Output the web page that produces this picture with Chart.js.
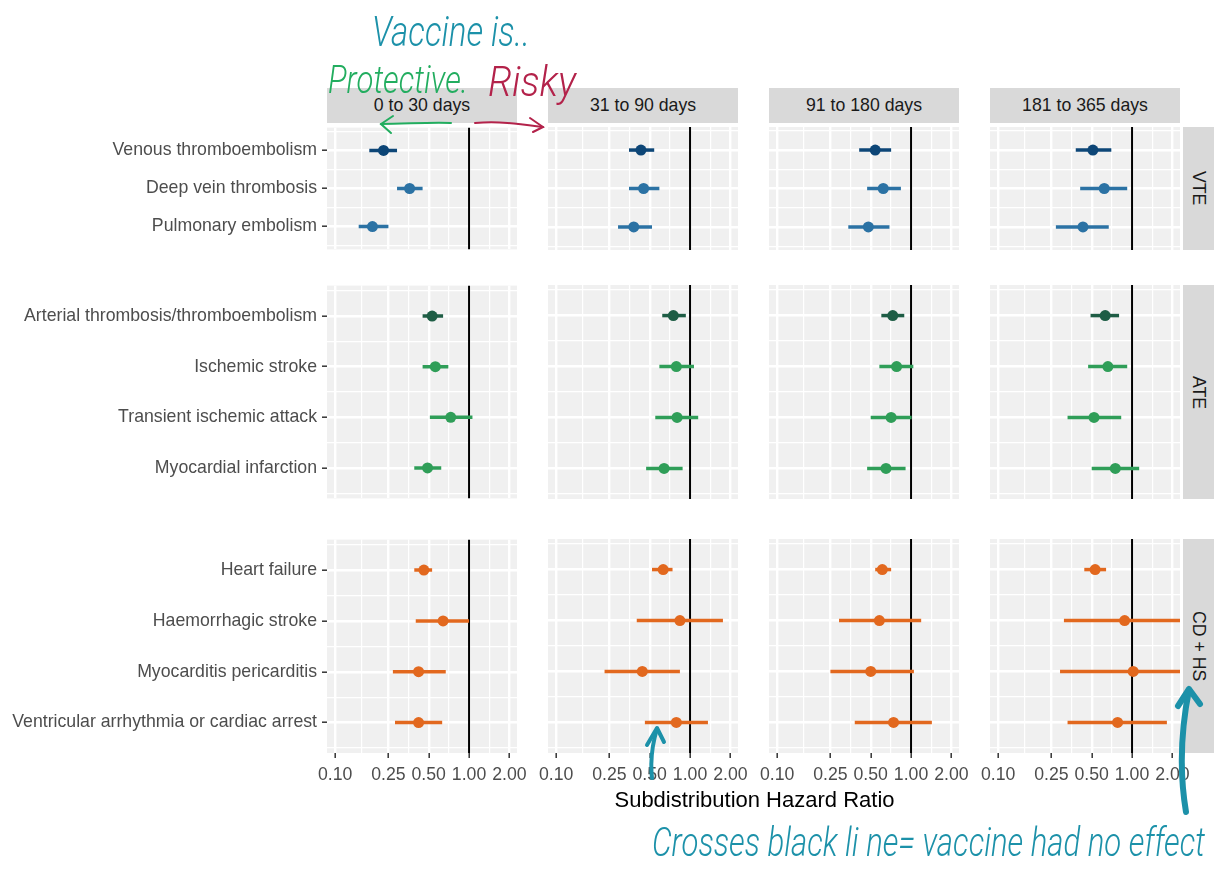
<!DOCTYPE html>
<html><head><meta charset="utf-8">
<script src="https://cdn.jsdelivr.net/npm/chart.js@4.4.1/dist/chart.umd.min.js"></script>
<style>
html,body{margin:0;padding:0;background:#fff;}
body{width:1215px;height:871px;position:relative;overflow:hidden;font-family:"Liberation Sans",Arial,sans-serif;}
canvas{position:absolute;}
.strip{position:absolute;background:#d9d9d9;color:#1a1a1a;font-size:17.7px;display:flex;align-items:center;justify-content:center;}
.vstrip{writing-mode:vertical-rl;}
#xtitle{position:absolute;left:327px;width:855px;top:787px;text-align:center;font-size:22px;color:#000;}
#anno{position:absolute;left:0;top:0;pointer-events:none;}
.hand{font-family:"Roboto","Open Sans",sans-serif;font-style:italic;font-weight:300;}
</style></head><body>
<div id="root"></div>
<div id="xtitle">Subdistribution Hazard Ratio</div>
<svg id="anno" width="1215" height="871" xmlns="http://www.w3.org/2000/svg">
  <text class="hand" x="372" y="46" font-size="42" fill="#1c91a9" textLength="158" lengthAdjust="spacingAndGlyphs">Vaccine is..</text>
  <text class="hand" x="328" y="93" font-size="38" fill="#22ad5f" textLength="140" lengthAdjust="spacingAndGlyphs">Protective.</text>
  <text class="hand" x="488" y="96" font-size="42" fill="#b3224a" textLength="88" lengthAdjust="spacingAndGlyphs">Risky</text>
  <g fill="none" stroke="#22ad5f" stroke-width="2" stroke-linecap="round">
    <path d="M451,123 C430,122 405,124 381,124"/>
    <path d="M393,116 L381,124 L391,133"/>
  </g>
  <g fill="none" stroke="#b3224a" stroke-width="2" stroke-linecap="round">
    <path d="M475,123 C500,121 520,124 543,127"/>
    <path d="M530,118 L543,127 L533,132"/>
  </g>
  <text class="hand" x="652" y="856" font-size="40" fill="#1c91a9" textLength="553" lengthAdjust="spacingAndGlyphs">Crosses black li ne= vaccine had no effect</text>
  <g fill="none" stroke="#1c91a9" stroke-linecap="round" stroke-linejoin="round">
    <path d="M652,778 C650,760 653,742 657,729" stroke-width="4"/>
    <path d="M647,745 L657,728 L664,742" stroke-width="4"/>
    <path d="M1186,812 C1179,770 1181,730 1189,690" stroke-width="6"/>
    <path d="M1178,706 L1189,689 L1200,704" stroke-width="6"/>
  </g>
</svg>
<script>
// ---------- data ----------
const periods = ["0 to 30 days", "31 to 90 days", "91 to 180 days", "181 to 365 days"];
const groups = ["VTE", "ATE", "CD + HS"];
const vteOutcomes = ["Venous thromboembolism", "Deep vein thrombosis", "Pulmonary embolism"];
const ateOutcomes = ["Arterial thrombosis/thromboembolism", "Ischemic stroke", "Transient ischemic attack", "Myocardial infarction"];
const cdOutcomes = ["Heart failure", "Haemorrhagic stroke", "Myocarditis pericarditis", "Ventricular arrhythmia or cardiac arrest"];
const xTickValues = [0.10, 0.25, 0.50, 1.00, 2.00];
const xTickLabels = ["0.10", "0.25", "0.50", "1.00", "2.00"];
const referenceLine = 1.00;

// one row per period, one value per outcome
const vteHR   = [[0.23, 0.36, 0.19], [0.43, 0.45, 0.38], [0.54, 0.62, 0.48], [0.51, 0.62, 0.43]];
const vteLow  = [[0.18, 0.29, 0.15], [0.35, 0.35, 0.29], [0.41, 0.47, 0.34], [0.38, 0.41, 0.27]];
const vteHigh = [[0.29, 0.45, 0.25], [0.54, 0.59, 0.52], [0.71, 0.84, 0.69], [0.70, 0.92, 0.67]];

const ateHR   = [[0.53, 0.56, 0.73, 0.49], [0.75, 0.79, 0.80, 0.64], [0.73, 0.78, 0.71, 0.65], [0.63, 0.66, 0.52, 0.75]];
const ateLow  = [[0.45, 0.45, 0.51, 0.39], [0.62, 0.59, 0.55, 0.47], [0.60, 0.58, 0.50, 0.47], [0.49, 0.47, 0.33, 0.50]];
const ateHigh = [[0.64, 0.70, 1.06, 0.62], [0.93, 1.07, 1.15, 0.88], [0.89, 1.04, 1.01, 0.91], [0.80, 0.92, 0.83, 1.13]];

const cdHR    = [[0.46, 0.64, 0.42, 0.42], [0.63, 0.84, 0.44, 0.79], [0.61, 0.58, 0.50, 0.74], [0.53, 0.88, 1.02, 0.78]];
const cdLow   = [[0.39, 0.40, 0.27, 0.28], [0.52, 0.40, 0.23, 0.46], [0.54, 0.29, 0.25, 0.38], [0.44, 0.31, 0.29, 0.33]];
const cdHigh  = [[0.53, 1.00, 0.67, 0.63], [0.74, 1.76, 0.84, 1.36], [0.71, 1.19, 1.05, 1.43], [0.64, 2.60, 2.60, 1.82]];

// ---------- layout / style ----------
const X_MIN = 0.087, X_MAX = 2.28;
const PANEL_LEFT = [327, 548, 769, 990];
const PANEL_W = 190;
const PANEL_TOP = [126.5, 285, 539];
const ROW_UNIT = [38.5, 51, 51];
const FONT = '"Liberation Sans", Arial, sans-serif';
const PANEL_BG = '#f0f0f0';
const AXIS_FONT = 17.7;
const groupStyle = [
  { dark: '#0d4677', light: '#2b72a4' },
  { dark: '#1e5d45', light: '#2f9e58' },
  { dark: '#e2681e', light: '#e2681e' }
];
const groupData = [
  { outcomes: vteOutcomes, hr: vteHR, lo: vteLow, hi: vteHigh },
  { outcomes: ateOutcomes, hr: ateHR, lo: ateLow, hi: ateHigh },
  { outcomes: cdOutcomes,  hr: cdHR,  lo: cdLow,  hi: cdHigh }
];

Chart.defaults.font.family = FONT;
Chart.defaults.animation = false;

const minorTicks = xTickValues.slice(1).map((v, i) => Math.sqrt(v * xTickValues[i]));
const allXTicks = xTickValues.concat(minorTicks).sort((a, b) => a - b);
const isMajorX = v => xTickValues.some(t => Math.abs(t - v) < 1e-9);

const panelBg = {
  id: 'panelBg',
  beforeDraw(chart) {
    const { ctx, chartArea: a } = chart;
    ctx.save(); ctx.fillStyle = PANEL_BG; ctx.fillRect(a.left, a.top, a.width, a.height); ctx.restore();
  }
};

const root = document.getElementById('root');
const PAD = 15, SIDE = 20, XAXIS_H = 46;

groupData.forEach((g, r) => {
  const n = g.outcomes.length;
  const panelH = ROW_UNIT[r] * (n + 0.2);
  const bottom = r === groupData.length - 1;
  periods.forEach((p, c) => {
    const first = c === 0;
    const cv = document.createElement('canvas');
    const left = first ? 0 : PANEL_LEFT[c] - SIDE;
    const w = (first ? PANEL_LEFT[0] : SIDE) + PANEL_W + SIDE;
    const top = PANEL_TOP[r] - PAD;
    const h = PAD + panelH + (bottom ? XAXIS_H : PAD);
    cv.width = w; cv.height = h;
    cv.style.left = left + 'px'; cv.style.top = top + 'px';
    cv.style.width = w + 'px'; cv.style.height = h + 'px';
    root.appendChild(cv);

    const st = groupStyle[r];
    const colors = g.outcomes.map((o, i) => i === 0 ? st.dark : st.light);
    const datasets = [];
    g.outcomes.forEach((o, i) => {
      datasets.push({
        data: [{ x: g.lo[c][i], y: i + 1 }, { x: g.hi[c][i], y: i + 1 }],
        showLine: true, borderColor: colors[i], borderWidth: 3.5, pointRadius: 0, order: 1
      });
    });
    datasets.push({
      data: g.outcomes.map((o, i) => ({ x: g.hr[c][i], y: i + 1 })),
      pointRadius: 5.5, pointBackgroundColor: colors, pointBorderColor: colors, pointBorderWidth: 0, order: 0
    });
    datasets.push({
      data: [{ x: referenceLine, y: 0.4 }, { x: referenceLine, y: n + 0.6 }],
      showLine: true, borderColor: '#000', borderWidth: 2, pointRadius: 0, order: 2
    });

    new Chart(cv, {
      type: 'scatter',
      data: { datasets },
      plugins: [panelBg],
      options: {
        responsive: false, devicePixelRatio: 1, animation: false, events: [],
        layout: { padding: { left: first ? 0 : SIDE, right: SIDE, top: PAD, bottom: bottom ? 0 : PAD } },
        plugins: { legend: { display: false }, tooltip: { enabled: false } },
        scales: {
          x: {
            type: 'logarithmic', min: X_MIN, max: X_MAX, bounds: 'data',
            afterBuildTicks: s => { s.ticks = allXTicks.map(v => ({ value: v })); },
            afterFit: s => { s.height = bottom ? XAXIS_H : 0; },
            ticks: {
              display: bottom, autoSkip: false, maxRotation: 0, minRotation: 0, padding: 6,
              color: '#4d4d4d', font: { size: AXIS_FONT },
              callback: v => { const k = xTickValues.findIndex(t => Math.abs(t - v) < 1e-9); return k >= 0 ? xTickLabels[k] : ''; }
            },
            grid: {
              color: '#ffffff',
              lineWidth: ctx => isMajorX(ctx.tick.value) ? 2.4 : 1.2,
              drawTicks: bottom, tickLength: 5,
              tickColor: ctx => isMajorX(ctx.tick.value) ? '#333333' : 'rgba(0,0,0,0)',
              tickWidth: 1.5
            },
            border: { display: false }
          },
          y: {
            type: 'linear', reverse: true, min: 0.4, max: n + 0.6,
            afterBuildTicks: s => { const t = []; for (let k = 1; k <= 2 * n + 1; k++) t.push({ value: k / 2 }); s.ticks = t; },
            afterFit: s => { s.width = first ? PANEL_LEFT[0] : 0; },
            ticks: {
              display: first, autoSkip: false, padding: 5, color: '#4d4d4d', font: { size: AXIS_FONT },
              callback: v => Number.isInteger(v) ? g.outcomes[v - 1] : ''
            },
            grid: {
              color: '#ffffff',
              lineWidth: ctx => Number.isInteger(ctx.tick.value) ? 2.4 : 1.2,
              drawTicks: first, tickLength: 5,
              tickColor: ctx => Number.isInteger(ctx.tick.value) ? '#333333' : 'rgba(0,0,0,0)',
              tickWidth: 1.5
            },
            border: { display: false }
          }
        }
      }
    });

    if (r === 0) {
      const s = document.createElement('div');
      s.className = 'strip';
      s.style.left = PANEL_LEFT[c] + 'px'; s.style.top = '88px';
      s.style.width = PANEL_W + 'px'; s.style.height = '35px';
      s.textContent = p;
      root.appendChild(s);
    }
  });
  const vs = document.createElement('div');
  vs.className = 'strip vstrip';
  vs.style.left = '1183px'; vs.style.top = PANEL_TOP[r] + 'px';
  vs.style.width = '31px'; vs.style.height = panelH + 'px';
  vs.textContent = groups[r];
  root.appendChild(vs);
});
</script>
</body></html>
